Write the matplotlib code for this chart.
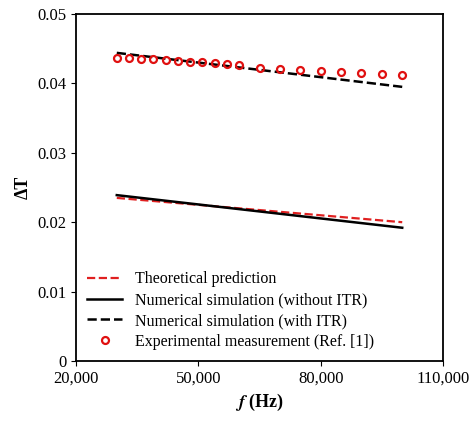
import matplotlib
matplotlib.use("Agg")
import matplotlib.pyplot as plt
from matplotlib.ticker import FuncFormatter

plt.rcParams['font.family'] = ['Liberation Serif', 'DejaVu Serif']
plt.rcParams['mathtext.fontset'] = 'stix'

line_f = [30000, 100000]
theory = [0.0235, 0.0200]
num_no_itr = [0.0239, 0.0192]
num_itr = [0.0444, 0.0395]
exp_f = [30000, 33000, 36000, 39000, 42000, 45000, 48000, 51000, 54000, 57000, 60000,
         65000, 70000, 75000, 80000, 85000, 90000, 95000, 100000]
exp_dT = [0.04370, 0.04365, 0.04355, 0.04345, 0.04335, 0.04325, 0.04315, 0.04305, 0.04295,
          0.04285, 0.04270, 0.04225, 0.04210, 0.04195, 0.04180, 0.04165, 0.04150, 0.04140, 0.04125]

fig = plt.figure(figsize=(4.74, 4.24), dpi=100)
ax = fig.add_axes([76/474, 1-361/424, 367/474, 347/424])
ax.plot(line_f, theory, '--', color='#e02020', lw=1.6, label='Theoretical prediction')
ax.plot(line_f, num_no_itr, '-', color='black', lw=1.8, label='Numerical simulation (without ITR)')
ax.plot(line_f, num_itr, '--', color='black', lw=1.8, label='Numerical simulation (with ITR)')
ax.plot(exp_f, exp_dT, 'o', mfc='none', mec='#e01010', mew=1.6, ms=5, ls='none',
        label='Experimental measurement (Ref. [1])')
ax.set_xlim(20000, 110000)
ax.set_ylim(0, 0.05)
ax.set_xticks([20000, 50000, 80000, 110000])
ax.set_yticks([0, 0.01, 0.02, 0.03, 0.04, 0.05])
ax.xaxis.set_major_formatter(FuncFormatter(lambda v, p: f"{int(v):,}"))
ax.yaxis.set_major_formatter(FuncFormatter(lambda v, p: '0' if v == 0 else f"{v:.2f}"))
ax.tick_params(direction='out', labelsize=12)
for s in ax.spines.values():
    s.set_linewidth(1.3)
ax.set_xlabel(r'$\boldsymbol{f}$ (Hz)', fontsize=13, fontweight='bold')
ax.set_ylabel('ΔT', fontsize=13, fontweight='bold')
ax.legend(loc='lower left', frameon=False, fontsize=11.5, handlelength=2.2,
          borderaxespad=0.3, labelspacing=0.3)
fig.savefig('out.png', dpi=100)
